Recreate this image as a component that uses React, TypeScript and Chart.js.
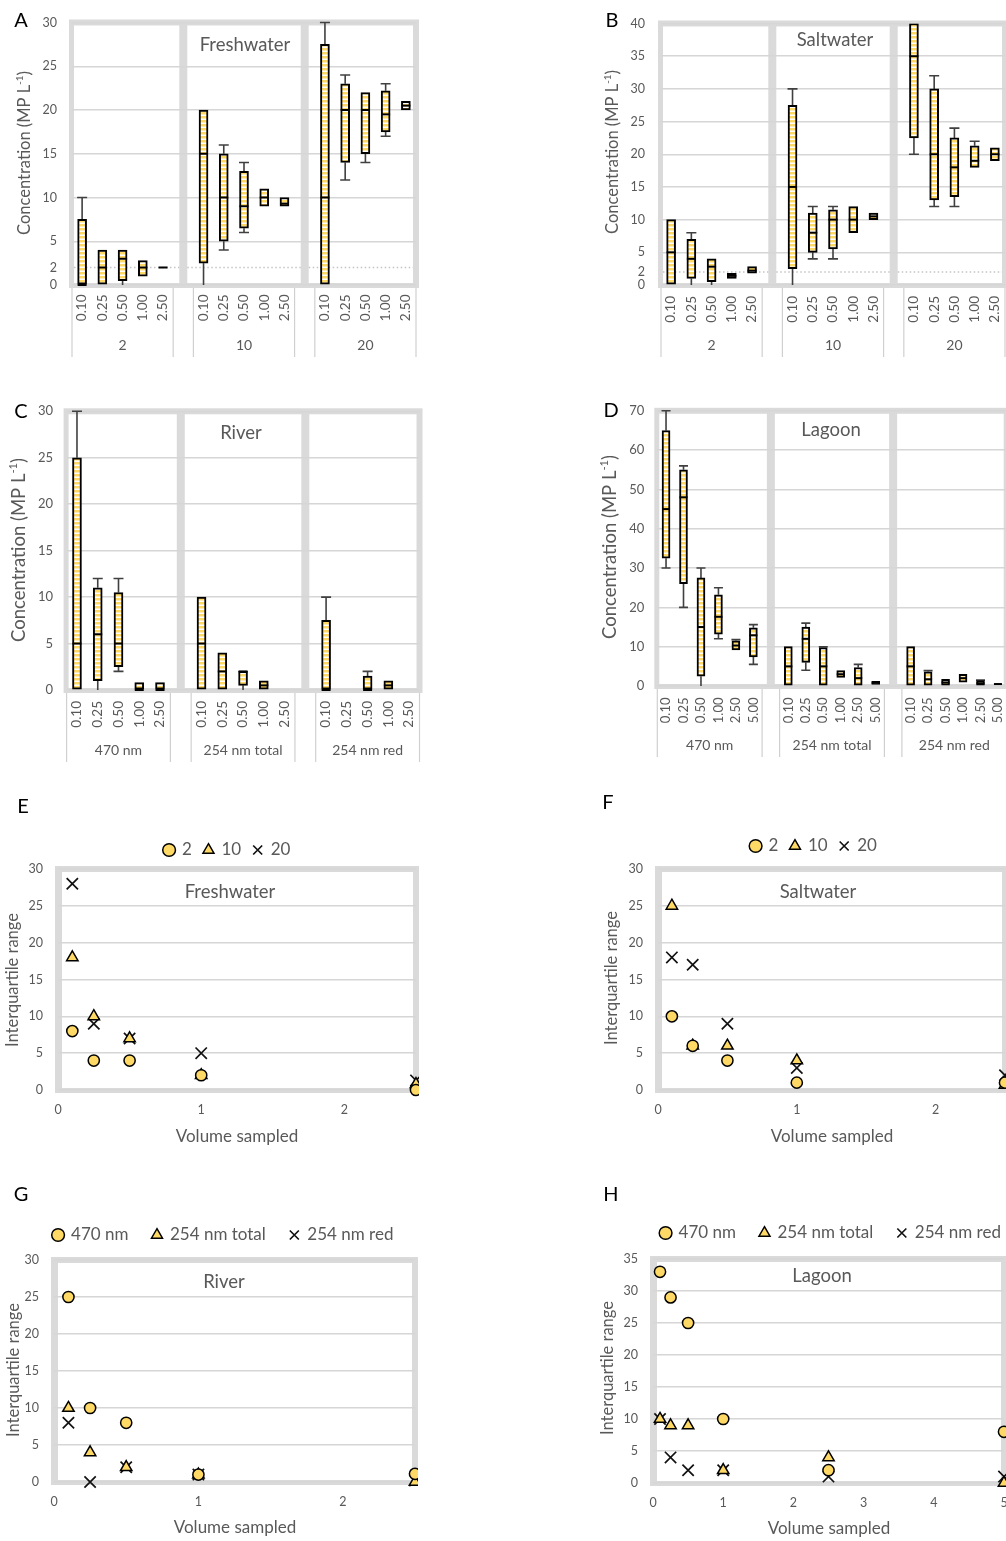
import React, { useEffect, useRef } from 'react';
import { Chart, registerables } from 'chart.js';

Chart.register(...registerables);

const FONT = "Lato, 'Liberation Sans', 'DejaVu Sans', sans-serif";
Chart.defaults.font.family = FONT;
Chart.defaults.color = '#595959';

const TEXT = '#595959';
const GRID = '#d6d6d6';
const FRAME = '#dadada';
const YELLOW = '#FFD966';
const WHISKER = '#404040';

// ---------------- categories ----------------
const volumes5 = ['0.10', '0.25', '0.50', '1.00', '2.50'];
const volumes6 = ['0.10', '0.25', '0.50', '1.00', '2.50', '5.00'];
const groupsDilution = ['2', '10', '20'];
const groupsWavelength = ['470 nm', '254 nm total', '254 nm red'];

// ---------------- box plot stats (groups concatenated) ----------------
// A Freshwater
const freshMin = [0, 0, 0, 1, 2, 0, 4, 6, 9, 9, 0, 12, 14, 17, 20];
const freshQ1 = [0, 0, 0.5, 1, 2, 2.5, 5, 6.5, 9, 9, 0, 14, 15, 17.5, 20];
const freshMed = [0, 2, 3, 2, 2, 15, 10, 9, 10, 9.3, 10, 20, 20, 19.5, 20.5];
const freshQ3 = [7.5, 4, 4, 2.8, 2, 20, 15, 13, 11, 10, 27.5, 23, 22, 22.2, 21];
const freshMax = [10, 4, 4, 2.8, 2, 20, 16, 14, 11, 10, 30, 24, 22, 23, 21];

// B Saltwater
const saltMin = [0, 0, 0, 1, 1.8, 0, 4, 4, 8, 10, 20, 12, 12, 18, 19];
const saltQ1 = [0, 1, 0.5, 1, 1.8, 2.5, 5, 5.5, 8, 10, 22.5, 13, 13.5, 18, 19];
const saltMed = [5, 4, 2.8, 1.4, 2.2, 15, 8, 10, 10, 10.5, 35, 20, 18, 19, 20];
const saltQ3 = [10, 7, 4, 1.8, 2.8, 27.5, 11, 11.5, 12, 11, 40, 30, 22.5, 21.3, 21];
const saltMax = [10, 8, 4, 1.8, 2.8, 30, 12, 12, 12, 11, 40, 32, 24, 22, 21];

// C River
const riverMin = [0, 0, 2, 0, 0, 0, 0, 0, 0, null, 0, null, 0, 0, null];
const riverQ1 = [0, 1, 2.5, 0, 0, 0, 0, 0.5, 0, null, 0, null, 0, 0, null];
const riverMed = [5, 6, 5, 0, 0, 5, 2, 2, 0.5, null, 0, null, 0, 0.5, null];
const riverQ3 = [25, 11, 10.5, 0.8, 0.8, 10, 4, 2, 1, null, 7.5, null, 1.5, 1, null];
const riverMax = [30, 12, 12, 0.8, 0.8, 10, 4, 2, 1, null, 10, null, 2, 1, null];

// D Lagoon
const lagoonMin = [30, 20, 0, 12, 9.2, 5.5, 0, 4, 0, 2.2, 0, 0.4, 0, 0, 0, 1, 0, 0.5];
const lagoonQ1 = [32.5, 26, 2.5, 13.2, 9.2, 7.4, 0, 6, 0, 2.2, 0, 0.4, 0, 0, 0, 1, 0, 0.5];
const lagoonMed = [45, 48, 15, 17.6, 10.3, 12.9, 5, 12, 5, 3, 2, 0.8, 5, 1.7, 0.9, 2, 0.7, 0.5];
const lagoonQ3 = [65, 55, 27.5, 23.2, 11.5, 14.8, 10, 15, 9.8, 3.9, 4.7, 1.2, 10, 3.6, 1.7, 3, 1.4, 0.5];
const lagoonMax = [70, 56, 30, 25, 11.8, 15.6, 10, 16, 10, 3.9, 5.5, 1.2, 10, 3.9, 1.7, 3, 1.5, 0.5];

// ---------------- tick labels ----------------
const ticksFresh = [0, 2, 5, 10, 15, 20, 25, 30];
const ticksSalt = [0, 2, 5, 10, 15, 20, 25, 30, 35, 40];
const ticksRiver = [0, 5, 10, 15, 20, 25, 30];
const ticksLagoon = [0, 10, 20, 30, 40, 50, 60, 70];
const ticksIqr30 = [0, 5, 10, 15, 20, 25, 30];
const ticksIqr35 = [0, 5, 10, 15, 20, 25, 30, 35];
const ticksVol3 = [0, 1, 2];
const ticksVol6 = [0, 1, 2, 3, 4, 5];

// ---------------- IQR scatter data ----------------
const volumeX5 = [0.1, 0.25, 0.5, 1, 2.5];
const volumeX6 = [0.1, 0.25, 0.5, 1, 2.5, 5];
const freshIqr2 = [8, 4, 4, 2, 0];
const freshIqr10 = [18, 10, 7, 2, 0.8];
const freshIqr20 = [28, 9, 7, 5, 1.3];
const saltIqr2 = [10, 6, 4, 1, 1];
const saltIqr10 = [25, 6, 6, 4, 0.7];
const saltIqr20 = [18, 17, 9, 3, 2];
const riverIqr470 = [25, 10, 8, 1, 1.1];
const riverIqrTotal = [10, 4, 2, 1, 0];
const riverIqrRed = [8, 0, 2, 1, 0.2];
const lagoonIqr470 = [33, 29, 25, 10, 2, 8];
const lagoonIqrTotal = [10, 9, 9, 2, 4, 0];
const lagoonIqrRed = [10, 4, 2, 2, 1, 1];

type Num = number | null;
type Stats = { min: Num[]; q1: Num[]; med: Num[]; q3: Num[]; max: Num[] };
type Rect = { left: number; top: number; width: number; height: number };
type Area = { l: number; t: number; r: number; b: number };

interface BoxPanel {
  letter: string; letterPos: [number, number];
  canvas: Rect; area: Area;
  yMax: number; yTicks: number[]; dotted: number | null;
  cats: string[]; groups: string[]; stats: Stats;
  title: string; titlePos: [number, number];
  yTitlePos: [number, number]; yTitleSize: number;
  tickSize: number; tickPad: number; catSize: number; catPad: number;
  groupY: number; lineBottom: number; barW: number;
}

interface ScatterPanel {
  letter: string; letterPos: [number, number];
  left: number; top: number; height: number; area: Area;
  legendCenter: number; legendY: number; legendPad: number;
  xMax: number; xTicks: number[]; yMax: number; yTicks: number[];
  xs: number[]; series: { label: string; ys: number[] }[];
  title: string; titlePos: [number, number];
  yTitlePos: [number, number]; xTitlePos: [number, number];
}

const boxPanels: BoxPanel[] = [
  {
    letter: 'A', letterPos: [21, 21], canvas: { left: 0, top: 0, width: 440, height: 365 },
    area: { l: 72, t: 20.7, r: 416, b: 285 }, yMax: 30, yTicks: ticksFresh, dotted: 2,
    cats: volumes5, groups: groupsDilution,
    stats: { min: freshMin, q1: freshQ1, med: freshMed, q3: freshQ3, max: freshMax },
    title: 'Freshwater', titlePos: [245, 45], yTitlePos: [25, 153], yTitleSize: 16.5,
    tickSize: 12.5, tickPad: 15, catSize: 13.5, catPad: 9.5, groupY: 345, lineBottom: 357, barW: 9,
  },
  {
    letter: 'B', letterPos: [612, 21], canvas: { left: 595, top: 0, width: 440, height: 365 },
    area: { l: 661, t: 20.7, r: 1005, b: 285 }, yMax: 40, yTicks: ticksSalt, dotted: 2,
    cats: volumes5, groups: groupsDilution,
    stats: { min: saltMin, q1: saltQ1, med: saltMed, q3: saltQ3, max: saltMax },
    title: 'Saltwater', titlePos: [835, 40], yTitlePos: [613, 152], yTitleSize: 16.5,
    tickSize: 12.5, tickPad: 16, catSize: 13.5, catPad: 11, groupY: 345, lineBottom: 357, barW: 9,
  },
  {
    letter: 'C', letterPos: [21, 412], canvas: { left: 0, top: 390, width: 440, height: 375 },
    area: { l: 66.6, t: 408.3, r: 419.5, b: 690 }, yMax: 30, yTicks: ticksRiver, dotted: null,
    cats: volumes5, groups: groupsWavelength,
    stats: { min: riverMin, q1: riverQ1, med: riverMed, q3: riverQ3, max: riverMax },
    title: 'River', titlePos: [241, 433], yTitlePos: [19, 550], yTitleSize: 18.5,
    tickSize: 13, tickPad: 13.5, catSize: 13.5, catPad: 11, groupY: 750, lineBottom: 762, barW: 9,
  },
  {
    letter: 'D', letterPos: [611, 411], canvas: { left: 595, top: 390, width: 440, height: 375 },
    area: { l: 657.3, t: 408.3, r: 1006.7, b: 686 }, yMax: 70, yTicks: ticksLagoon, dotted: null,
    cats: volumes6, groups: groupsWavelength,
    stats: { min: lagoonMin, q1: lagoonQ1, med: lagoonMed, q3: lagoonQ3, max: lagoonMax },
    title: 'Lagoon', titlePos: [831, 430], yTitlePos: [610, 547], yTitleSize: 18.5,
    tickSize: 13, tickPad: 13, catSize: 13, catPad: 11.5, groupY: 745, lineBottom: 757, barW: 8,
  },
];

const scatterPanels: ScatterPanel[] = [
  {
    letter: 'E', letterPos: [23, 807], left: 0, top: 790, height: 365,
    area: { l: 58, t: 869, r: 416, b: 1090 }, legendCenter: 227.5, legendY: 850, legendPad: 12,
    xMax: 2.5, xTicks: ticksVol3, yMax: 30, yTicks: ticksIqr30, xs: volumeX5,
    series: [{ label: '2', ys: freshIqr2 }, { label: '10', ys: freshIqr10 }, { label: '20', ys: freshIqr20 }],
    title: 'Freshwater', titlePos: [230, 892], yTitlePos: [13, 980], xTitlePos: [237, 1137],
  },
  {
    letter: 'F', letterPos: [608, 803], left: 595, top: 790, height: 365,
    area: { l: 658, t: 869, r: 1005, b: 1090 }, legendCenter: 814, legendY: 846, legendPad: 12,
    xMax: 2.5, xTicks: ticksVol3, yMax: 30, yTicks: ticksIqr30, xs: volumeX5,
    series: [{ label: '2', ys: saltIqr2 }, { label: '10', ys: saltIqr10 }, { label: '20', ys: saltIqr20 }],
    title: 'Saltwater', titlePos: [818, 892], yTitlePos: [612, 978], xTitlePos: [832, 1137],
  },
  {
    letter: 'G', letterPos: [21, 1195], left: 0, top: 1180, height: 361,
    area: { l: 54, t: 1260, r: 415, b: 1482 }, legendCenter: 223.5, legendY: 1235, legendPad: 24,
    xMax: 2.5, xTicks: ticksVol3, yMax: 30, yTicks: ticksIqr30, xs: volumeX5,
    series: [{ label: '470 nm', ys: riverIqr470 }, { label: '254 nm total', ys: riverIqrTotal }, { label: '254 nm red', ys: riverIqrRed }],
    title: 'River', titlePos: [224, 1282], yTitlePos: [14, 1370], xTitlePos: [235, 1528],
  },
  {
    letter: 'H', letterPos: [611, 1195], left: 595, top: 1180, height: 361,
    area: { l: 653, t: 1259, r: 1004, b: 1483 }, legendCenter: 831, legendY: 1233, legendPad: 24,
    xMax: 5, xTicks: ticksVol6, yMax: 35, yTicks: ticksIqr35, xs: volumeX6,
    series: [{ label: '470 nm', ys: lagoonIqr470 }, { label: '254 nm total', ys: lagoonIqrTotal }, { label: '254 nm red', ys: lagoonIqrRed }],
    title: 'Lagoon', titlePos: [822, 1276], yTitlePos: [608, 1368], xTitlePos: [829, 1529],
  },
];

const markerStyles = [
  { pointStyle: 'circle', pointRadius: 5.6, backgroundColor: YELLOW, borderColor: '#000', borderWidth: 1.5 },
  { pointStyle: 'triangle', pointRadius: 6.6, backgroundColor: YELLOW, borderColor: '#000', borderWidth: 1.5 },
  { pointStyle: 'crossRot', pointRadius: 8, backgroundColor: '#000', borderColor: '#111', borderWidth: 1.7 },
];

// ---------------- drawing helpers ----------------
function drawText(ctx: CanvasRenderingContext2D, s: string, x: number, y: number, size: number, color = TEXT) {
  ctx.save();
  ctx.font = `${size}px ${FONT}`;
  ctx.fillStyle = color;
  ctx.textAlign = 'center';
  ctx.textBaseline = 'middle';
  ctx.fillText(s, x, y);
  ctx.restore();
}

function drawVText(ctx: CanvasRenderingContext2D, parts: { t: string; sup?: boolean }[], x: number, y: number, size: number) {
  ctx.save();
  ctx.translate(x, y);
  ctx.rotate(-Math.PI / 2);
  ctx.fillStyle = TEXT;
  ctx.textBaseline = 'middle';
  ctx.textAlign = 'left';
  const fontFor = (sup?: boolean) => `${sup ? size * 0.6 : size}px ${FONT}`;
  const widths = parts.map((p) => { ctx.font = fontFor(p.sup); return ctx.measureText(p.t).width; });
  let cx = -widths.reduce((a, b) => a + b, 0) / 2;
  parts.forEach((p, i) => {
    ctx.font = fontFor(p.sup);
    ctx.fillText(p.t, cx, p.sup ? -size * 0.32 : 0);
    cx += widths[i];
  });
  ctx.restore();
}

function drawFrame(ctx: CanvasRenderingContext2D, a: any, whites: [number, number][]) {
  ctx.save();
  ctx.fillStyle = FRAME;
  ctx.fillRect(a.left - 3, a.top - 3, a.right - a.left + 6, a.bottom - a.top + 6);
  ctx.fillStyle = '#ffffff';
  whites.forEach(([x0, x1]) => ctx.fillRect(x0, a.top + 3, x1 - x0, a.bottom - a.top - 5));
  ctx.restore();
}

function makePattern(): CanvasPattern | string {
  const c = document.createElement('canvas');
  c.width = 4; c.height = 4;
  const g = c.getContext('2d');
  if (!g) return YELLOW;
  g.fillStyle = '#ffffff'; g.fillRect(0, 0, 4, 4);
  g.fillStyle = YELLOW; g.fillRect(0, 0, 4, 2);
  g.fillStyle = '#FFEDB8'; g.fillRect(0, 2, 4, 1);
  return g.createPattern(c, 'repeat') || YELLOW;
}

function dummyScale(position: 'top' | 'right', size: number) {
  return {
    type: 'linear', position, display: true,
    grid: { display: false, drawTicks: false }, border: { display: false }, ticks: { display: false },
    afterFit: (s: any) => { if (position === 'top') s.height = size; else s.width = size; },
  };
}

// ---------------- box chart config ----------------
function boxConfig(p: BoxPanel): any {
  const labels: string[] = [];
  const data: ([number, number] | null)[] = [];
  const catIndex: number[] = [];
  let k = 0;
  p.groups.forEach((_, gi) => {
    if (gi > 0) { labels.push(''); data.push(null); }
    p.cats.forEach((c) => {
      labels.push(c);
      catIndex.push(labels.length - 1);
      const q1 = p.stats.q1[k], q3 = p.stats.q3[k];
      data.push(q1 == null || q3 == null ? null : [q1, q3]);
      k++;
    });
  });
  const { canvas: cv, area } = p;
  const wy = area.l - cv.left;
  const ht = area.t - cv.top;
  const wr = cv.left + cv.width - area.r;
  const hx = cv.top + cv.height - area.b;
  const ox = cv.left, oy = cv.top;
  const s = p.stats;
  const n = p.cats.length;

  const plugin = {
    id: 'boxExtras',
    beforeDraw(chart: any) {
      const a = chart.chartArea; const x = chart.scales.x;
      const g1 = x.getPixelForValue(n), g2 = x.getPixelForValue(2 * n + 1);
      drawFrame(chart.ctx, a, [[a.left + 2, g1 - 4], [g1 + 4, g2 - 4], [g2 + 4, a.right - 3]]);
    },
    beforeDatasetsDraw(chart: any) {
      const ctx = chart.ctx; const a = chart.chartArea; const x = chart.scales.x; const y = chart.scales.y;
      ctx.save();
      if (p.dotted != null) {
        const g1 = x.getPixelForValue(n), g2 = x.getPixelForValue(2 * n + 1);
        const yy = y.getPixelForValue(p.dotted);
        ctx.strokeStyle = '#c4c4c4'; ctx.lineWidth = 1.5; ctx.setLineDash([1.5, 2.5]);
        [[a.left + 2, g1 - 4], [g1 + 4, g2 - 4], [g2 + 4, a.right - 3]].forEach(([x0, x1]) => {
          ctx.beginPath(); ctx.moveTo(x0, yy); ctx.lineTo(x1, yy); ctx.stroke();
        });
        ctx.setLineDash([]);
      }
      ctx.strokeStyle = WHISKER; ctx.lineWidth = 1.6;
      const hw = p.barW / 2 + 0.5;
      catIndex.forEach((ci, i) => {
        const q1 = s.q1[i], q3 = s.q3[i], lo = s.min[i], hi = s.max[i];
        if (q1 == null || q3 == null) return;
        const cx = x.getPixelForValue(ci);
        ([[q3, hi], [q1, lo]] as [number, Num][]).forEach(([edge, end]) => {
          if (end == null || end === edge) return;
          const y0 = y.getPixelForValue(edge), y1 = y.getPixelForValue(end);
          ctx.beginPath(); ctx.moveTo(cx, y0); ctx.lineTo(cx, y1);
          if (end > 0) { ctx.moveTo(cx - hw, y1); ctx.lineTo(cx + hw, y1); }
          ctx.stroke();
        });
      });
      ctx.restore();
    },
    afterDatasetsDraw(chart: any) {
      const ctx = chart.ctx; const x = chart.scales.x; const y = chart.scales.y;
      ctx.save();
      ctx.strokeStyle = '#000'; ctx.lineWidth = 2;
      catIndex.forEach((ci, i) => {
        const m = s.med[i];
        if (m == null || s.q1[i] == null) return;
        const cx = x.getPixelForValue(ci); const yy = y.getPixelForValue(m);
        ctx.beginPath(); ctx.moveTo(cx - p.barW / 2, yy); ctx.lineTo(cx + p.barW / 2, yy); ctx.stroke();
      });
      ctx.restore();
    },
    afterDraw(chart: any) {
      const ctx = chart.ctx; const a = chart.chartArea; const x = chart.scales.x;
      const half = (x.getPixelForValue(1) - x.getPixelForValue(0)) / 2;
      ctx.save();
      ctx.strokeStyle = '#d0d0d0'; ctx.lineWidth = 1.2;
      p.groups.forEach((g, gi) => {
        const s0 = gi * (n + 1), s1 = s0 + n - 1;
        const xl = x.getPixelForValue(s0) - half, xr = x.getPixelForValue(s1) + half;
        [xl, xr].forEach((xx) => {
          ctx.beginPath(); ctx.moveTo(xx, a.bottom + 3); ctx.lineTo(xx, p.lineBottom - oy); ctx.stroke();
        });
        drawText(ctx, g, (xl + xr) / 2, p.groupY - oy, 14);
      });
      ctx.restore();
      drawText(ctx, p.letter, p.letterPos[0] - ox, p.letterPos[1] - oy, 20, '#000');
      drawText(ctx, p.title, p.titlePos[0] - ox, p.titlePos[1] - oy, 18.5);
      drawVText(ctx, [{ t: 'Concentration (MP L' }, { t: '-1', sup: true }, { t: ')' }], p.yTitlePos[0] - ox, p.yTitlePos[1] - oy, p.yTitleSize);
    },
  };

  return {
    type: 'bar',
    data: {
      labels,
      datasets: [{
        data, backgroundColor: makePattern(), borderColor: '#000', borderWidth: 2, borderSkipped: false,
        barThickness: p.barW, xAxisID: 'x', yAxisID: 'y',
      }],
    },
    options: {
      animation: false, responsive: false, maintainAspectRatio: false, events: [],
      layout: { padding: 0 },
      plugins: { legend: { display: false }, tooltip: { enabled: false } },
      scales: {
        x: {
          type: 'category', position: 'bottom', offset: true,
          grid: { display: false, drawTicks: false }, border: { display: false },
          ticks: { autoSkip: false, minRotation: 90, maxRotation: 90, padding: p.catPad, color: TEXT, font: { size: p.catSize } },
          afterFit: (sc: any) => { sc.height = hx; },
        },
        y: {
          type: 'linear', position: 'left', min: 0, max: p.yMax,
          afterBuildTicks: (sc: any) => { sc.ticks = p.yTicks.map((v) => ({ value: v })); },
          grid: {
            color: (c: any) => (c.tick && p.dotted != null && c.tick.value === p.dotted ? 'rgba(0,0,0,0)' : GRID),
            lineWidth: 1.5, drawTicks: false,
          },
          border: { display: false },
          ticks: { color: TEXT, padding: p.tickPad, font: { size: p.tickSize } },
          afterFit: (sc: any) => { sc.width = wy; },
        },
        xt: dummyScale('top', ht),
        yr: dummyScale('right', wr),
      },
    },
    plugins: [plugin],
  };
}

// ---------------- scatter chart config ----------------
function scatterRect(p: ScatterPanel): Rect {
  // canvas is made symmetric about the legend centre so the legend centres where it should
  return { left: p.left, top: p.top, width: 2 * (p.legendCenter - p.left), height: p.height };
}

function scatterConfig(p: ScatterPanel): any {
  const cv = scatterRect(p);
  const area = p.area;
  const ox = cv.left, oy = cv.top;
  const legendSize = 17;
  const wy = area.l - ox;
  const wr = cv.width - (area.r - ox);
  const pt = p.legendY - oy - p.legendPad - legendSize / 2;
  const legendH = legendSize + p.legendPad + 10;
  const ht = Math.max(0, area.t - oy - pt - legendH);
  const hx = cv.top + cv.height - area.b;

  const plugin = {
    id: 'scatterExtras',
    beforeDraw(chart: any) {
      const a = chart.chartArea;
      drawFrame(chart.ctx, a, [[a.left + 4, a.right - 3]]);
    },
    afterDraw(chart: any) {
      const ctx = chart.ctx;
      drawText(ctx, p.letter, p.letterPos[0] - ox, p.letterPos[1] - oy, 20, '#000');
      drawText(ctx, p.title, p.titlePos[0] - ox, p.titlePos[1] - oy, 18.5);
      drawText(ctx, 'Volume sampled', p.xTitlePos[0] - ox, p.xTitlePos[1] - oy, 17);
      drawVText(ctx, [{ t: 'Interquartile range' }], p.yTitlePos[0] - ox, p.yTitlePos[1] - oy, 16.5);
    },
  };

  return {
    type: 'scatter',
    data: {
      datasets: p.series.map((sr, i) => ({
        label: sr.label,
        data: p.xs.map((v, j) => ({ x: v, y: sr.ys[j] })),
        ...markerStyles[i],
        pointHoverRadius: markerStyles[i].pointRadius,
        clip: { left: 10, top: 10, right: 3, bottom: 10 },
        xAxisID: 'x', yAxisID: 'y',
      })),
    },
    options: {
      animation: false, responsive: false, maintainAspectRatio: false, events: [],
      layout: { padding: { left: 0, right: 0, top: pt, bottom: 0 } },
      plugins: {
        tooltip: { enabled: false },
        legend: {
          display: true, position: 'top', align: 'center',
          labels: {
            usePointStyle: true, boxWidth: 9, boxHeight: 9, padding: p.legendPad,
            color: TEXT, font: { size: legendSize },
          },
        },
      },
      scales: {
        x: {
          type: 'linear', position: 'bottom', min: 0, max: p.xMax,
          afterBuildTicks: (sc: any) => { sc.ticks = p.xTicks.map((v) => ({ value: v })); },
          grid: { display: false, drawTicks: false }, border: { display: false },
          ticks: { color: TEXT, padding: 12.5, font: { size: 12.5 } },
          afterFit: (sc: any) => { sc.height = hx; },
        },
        y: {
          type: 'linear', position: 'left', min: 0, max: p.yMax,
          afterBuildTicks: (sc: any) => { sc.ticks = p.yTicks.map((v) => ({ value: v })); },
          grid: { color: GRID, lineWidth: 1.5, drawTicks: false }, border: { display: false },
          ticks: { color: TEXT, padding: 15, font: { size: 12.5 } },
          afterFit: (sc: any) => { sc.width = wy; },
        },
        xt: dummyScale('top', ht),
        yr: dummyScale('right', wr),
      },
    },
    plugins: [plugin],
  };
}

function ChartCanvas({ rect, make }: { rect: Rect; make: () => any }) {
  const ref = useRef<HTMLCanvasElement>(null);
  useEffect(() => {
    if (!ref.current) return;
    const chart = new Chart(ref.current, make());
    return () => chart.destroy();
  }, []);
  return (
    <canvas
      ref={ref}
      width={rect.width}
      height={rect.height}
      style={{ position: 'absolute', left: rect.left, top: rect.top, width: rect.width, height: rect.height }}
    />
  );
}

export default function App() {
  return (
    <div style={{ position: 'absolute', left: 0, top: 0, width: 1006, height: 1541, overflow: 'hidden', background: '#ffffff' }}>
      {boxPanels.map((p) => (
        <ChartCanvas key={p.letter} rect={p.canvas} make={() => boxConfig(p)} />
      ))}
      {scatterPanels.map((p) => (
        <ChartCanvas key={p.letter} rect={scatterRect(p)} make={() => scatterConfig(p)} />
      ))}
    </div>
  );
}
